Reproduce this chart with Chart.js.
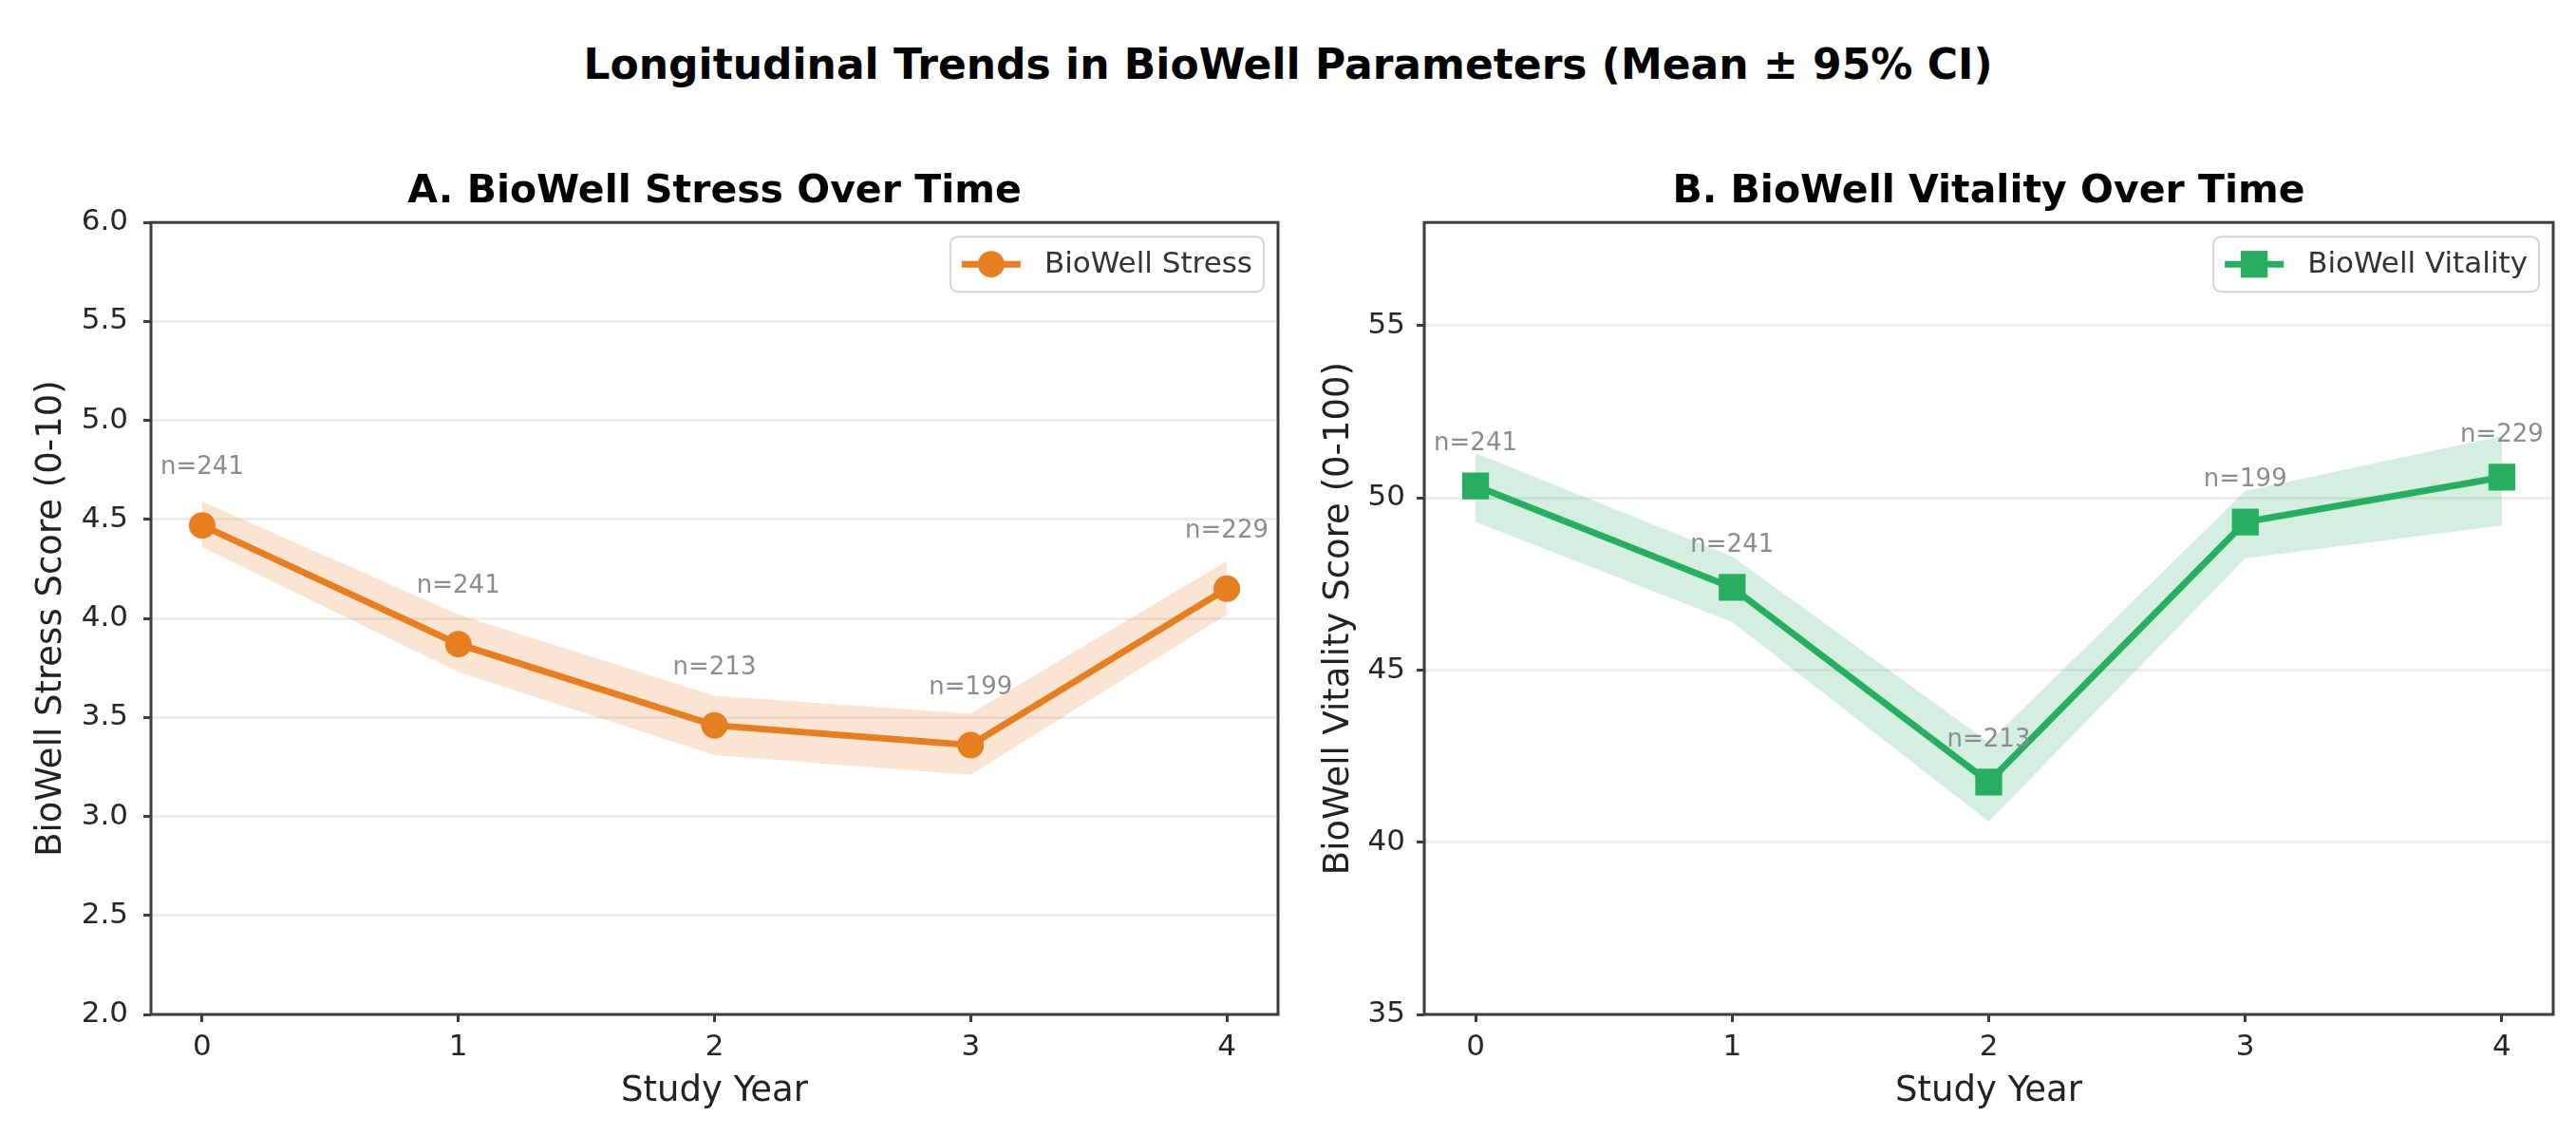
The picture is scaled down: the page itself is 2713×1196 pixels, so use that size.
<!DOCTYPE html>
<html>
<head>
<meta charset="utf-8">
<script src="https://cdn.jsdelivr.net/npm/chart.js@4.4.1/dist/chart.umd.min.js"></script>
<style>
    html, body { margin: 0; padding: 0; background: #fff; width: 2713px; height: 1196px; overflow: hidden; font-family: "DejaVu Sans", sans-serif; }
    #title { position: absolute; left: 0; top: 40px; width: 2713px; text-align: center; font-weight: bold; font-size: 44px; line-height: 56px; color: #000; }
    .panel { position: absolute; top: 150px; height: 1046px; }
    #left { left: 0; width: 1360px; }
    #right { left: 1360px; width: 1353px; }
</style>
</head>
<body>
<div id="title">Longitudinal Trends in BioWell Parameters (Mean ± 95% CI)</div>
<div class="panel" id="left"><canvas id="stressChart"></canvas></div>
<div class="panel" id="right"><canvas id="vitalityChart"></canvas></div>
<script>
const years = [0, 1, 2, 3, 4];

const stressMean  = [4.47, 3.87, 3.46, 3.36, 4.15];
const stressLower = [4.36, 3.73, 3.31, 3.21, 4.02];
const stressUpper = [4.59, 4.02, 3.61, 3.52, 4.29];
const stressN     = [241, 241, 213, 199, 229];

const vitalityMean  = [50.35, 47.4, 41.75, 49.3, 50.6];
const vitalityLower = [49.3, 46.4, 40.6, 48.25, 49.2];
const vitalityUpper = [51.3, 48.3, 42.9, 50.2, 51.8];
const vitalityN     = [241, 241, 213, 199, 229];

const stressTicks = [2.0, 2.5, 3.0, 3.5, 4.0, 4.5, 5.0, 5.5, 6.0];
const vitalityTicks = [35, 40, 45, 50, 55];

const ORANGE = "#e67e22";
const GREEN = "#27ae60";

Chart.defaults.font.family = "'DejaVu Sans', sans-serif";

function pts(arr) {
    return years.map((x, i) => ({ x: x, y: arr[i] }));
}

// axes box (all four spines)
const framePlugin = {
    id: "frame",
    afterDatasetsDraw(chart) {
        const a = chart.chartArea;
        const ctx = chart.ctx;
        ctx.save();
        ctx.strokeStyle = "#3d3d3d";
        ctx.lineWidth = 3;
        ctx.strokeRect(a.left, a.top, a.right - a.left, a.bottom - a.top);
        ctx.restore();
    }
};

// "n=..." annotations above each point
const nLabelPlugin = {
    id: "nLabels",
    afterDatasetsDraw(chart, args, opts) {
        const ctx = chart.ctx;
        const x = chart.scales.x, y = chart.scales.y;
        ctx.save();
        ctx.font = "26px 'DejaVu Sans'";
        ctx.fillStyle = "#8c8c8c";
        ctx.textAlign = "center";
        ctx.textBaseline = "middle";
        opts.counts.forEach((n, i) => {
            ctx.fillText("n=" + n, x.getPixelForValue(years[i]), y.getPixelForValue(opts.means[i] + opts.offset));
        });
        ctx.restore();
    }
};

// legend box in the upper right of the plot area
const boxLegendPlugin = {
    id: "boxLegend",
    afterDraw(chart) {
        const ds = chart.data.datasets[0];
        const ctx = chart.ctx;
        const a = chart.chartArea;
        ctx.save();
        ctx.font = "31px 'DejaVu Sans'";
        const tw = ctx.measureText(ds.label).width;
        const pad = 12, handle = 62, gap = 25, h = 58;
        const w = pad + handle + gap + tw + pad;
        const x0 = a.right - 15 - w, y0 = a.top + 15;
        ctx.beginPath();
        ctx.roundRect(x0, y0, w, h, 8);
        ctx.fillStyle = "rgba(255,255,255,0.8)";
        ctx.fill();
        ctx.strokeStyle = "#d4d4d4";
        ctx.lineWidth = 2;
        ctx.stroke();

        const cy = y0 + h / 2;
        ctx.strokeStyle = ds.borderColor;
        ctx.lineWidth = ds.borderWidth;
        ctx.beginPath();
        ctx.moveTo(x0 + pad, cy);
        ctx.lineTo(x0 + pad + handle, cy);
        ctx.stroke();

        const mx = x0 + pad + handle / 2;
        ctx.fillStyle = ds.borderColor;
        ctx.beginPath();
        if (ds.pointStyle === "rect") {
            const s = Math.SQRT1_2 * ds.pointRadius;
            ctx.rect(mx - s, cy - s, 2 * s, 2 * s);
        } else {
            ctx.arc(mx, cy, ds.pointRadius, 0, Math.PI * 2);
        }
        ctx.fill();

        ctx.fillStyle = "#333";
        ctx.textAlign = "left";
        ctx.textBaseline = "middle";
        ctx.fillText(ds.label, x0 + pad + handle + gap, cy + 1);
        ctx.restore();
    }
};

function makeChart(id, cfg) {
    const ctx = document.getElementById(id).getContext("2d");
    return new Chart(ctx, {
        type: "line",
        data: {
            datasets: [
                {
                    label: cfg.label,
                    data: pts(cfg.mean),
                    borderColor: cfg.color,
                    backgroundColor: cfg.color,
                    pointBackgroundColor: cfg.color,
                    pointBorderColor: cfg.color,
                    pointBorderWidth: 0,
                    borderWidth: 7,
                    pointStyle: cfg.pointStyle,
                    pointRadius: cfg.pointRadius,
                    tension: 0,
                    fill: false
                },
                {
                    label: "upper",
                    data: pts(cfg.upper),
                    borderColor: "rgba(0,0,0,0)",
                    borderWidth: 0,
                    pointRadius: 0,
                    tension: 0,
                    fill: "+1",
                    backgroundColor: cfg.band
                },
                {
                    label: "lower",
                    data: pts(cfg.lower),
                    borderColor: "rgba(0,0,0,0)",
                    borderWidth: 0,
                    pointRadius: 0,
                    tension: 0,
                    fill: false
                }
            ]
        },
        options: {
            responsive: true,
            maintainAspectRatio: false,
            animation: false,
            events: [],
            layout: { padding: { left: 0, right: cfg.padRight, top: 0, bottom: 0 } },
            plugins: {
                legend: { display: false },
                tooltip: { enabled: false },
                title: {
                    display: true,
                    text: cfg.title,
                    fullSize: false,
                    color: "#000",
                    font: { size: 41, weight: "bold" },
                    padding: { top: 28, bottom: 7 }
                },
                nLabels: { counts: cfg.n, means: cfg.mean, offset: cfg.nOffset }
            },
            scales: {
                x: {
                    type: "linear",
                    min: -0.2,
                    max: 4.2,
                    afterFit: s => { s.height = 128; },
                    ticks: { stepSize: 1, includeBounds: false, padding: 8, color: "#262626", font: { size: 31 } },
                    grid: { color: "rgba(0,0,0,0)", drawOnChartArea: false, tickColor: "#3d3d3d", tickLength: 8, tickWidth: 3 },
                    border: { display: false },
                    title: { display: true, text: "Study Year", color: "#222", font: { size: 37 }, padding: { top: 0, bottom: 24 } }
                },
                y: {
                    min: cfg.ticks[0],
                    max: cfg.yMax,
                    afterFit: s => { s.width = cfg.yWidth; },
                    afterBuildTicks: s => { s.ticks = cfg.ticks.map(v => ({ value: v })); },
                    ticks: {
                        padding: cfg.tickPad,
                        color: "#262626",
                        font: { size: 31 },
                        callback: cfg.fmt
                    },
                    grid: { color: "rgba(0,0,0,0.07)", lineWidth: 3, tickColor: "#3d3d3d", tickLength: 8, tickWidth: 3 },
                    border: { display: false },
                    title: { display: true, text: cfg.yTitle, color: "#222", font: { size: 37 }, padding: { top: cfg.titlePad, bottom: 0 } }
                }
            }
        },
        plugins: [framePlugin, nLabelPlugin, boxLegendPlugin]
    });
}

makeChart("stressChart", {
    label: "BioWell Stress",
    title: "A. BioWell Stress Over Time",
    yTitle: "BioWell Stress Score (0-10)",
    mean: stressMean, lower: stressLower, upper: stressUpper, n: stressN,
    color: ORANGE, band: "rgba(230,126,34,0.2)",
    pointStyle: "circle", pointRadius: 14,
    ticks: stressTicks, yMax: 6,
    fmt: v => Number(v).toFixed(1),
    nOffset: 0.29,
    yWidth: 159, tickPad: 16, titlePad: 32, padRight: 12
});

makeChart("vitalityChart", {
    label: "BioWell Vitality",
    title: "B. BioWell Vitality Over Time",
    yTitle: "BioWell Vitality Score (0-100)",
    mean: vitalityMean, lower: vitalityLower, upper: vitalityUpper, n: vitalityN,
    color: GREEN, band: "rgba(39,174,96,0.2)",
    pointStyle: "rect", pointRadius: 20,
    ticks: vitalityTicks, yMax: 58,
    fmt: v => String(v),
    nOffset: 1.22,
    yWidth: 140, tickPad: 12, titlePad: 28, padRight: 24
});
</script>
</body>
</html>
